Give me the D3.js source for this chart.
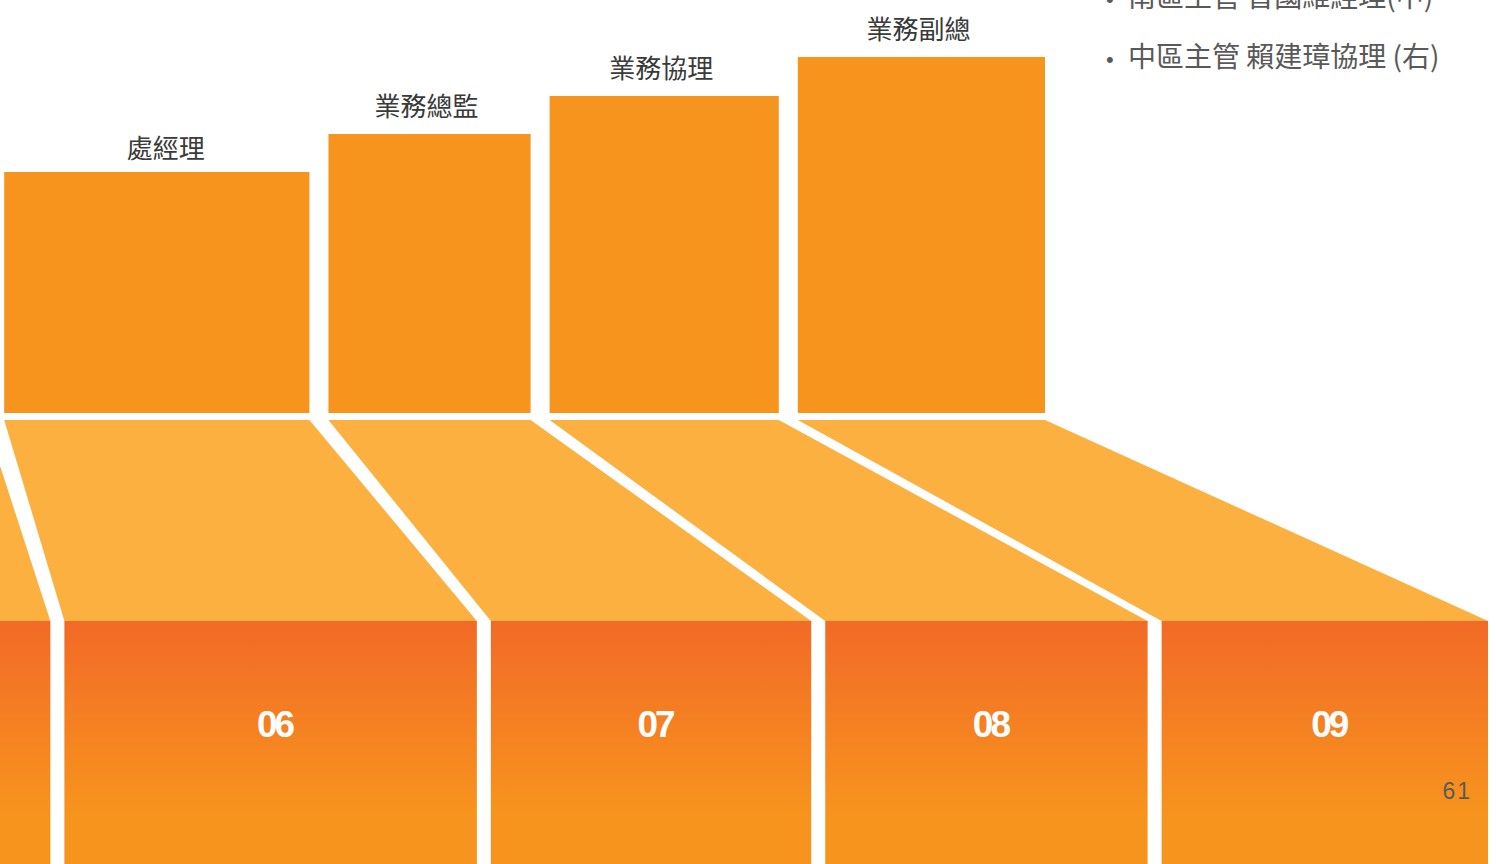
<!DOCTYPE html>
<html>
<head>
<meta charset="utf-8">
<script src="https://cdn.jsdelivr.net/npm/d3@7"></script>
<style>
  html, body { margin: 0; padding: 0; background: #fff; }
  svg { display: block; }
</style>
</head>
<body>
<svg></svg>
<script>
// 資料
var tiers = ["05", "06", "07", "08", "09"];
var titles = ["", "處經理", "業務總監", "業務協理", "業務副總"];
var levels = [203, 241, 279, 317, 356];       // 職級高度
var topSpans = [245, 305, 202, 229, 247];     // 上方長條寬度
var blockSpans = [320, 412, 320, 322, 326];   // 下方區塊寬度
var notes = ["南區主管 曾國維經理(中)", "中區主管 賴建璋協理 (右)"];
var pageNo = "61";

var svg = d3.select('svg')
.attr('width', 1496)
.attr('height', 864);

var defs = svg.append('defs');
var grad = defs.append('linearGradient')
.attr('id', 'blockGrad')
.attr('x1', 0).attr('y1', 0).attr('x2', 0).attr('y2', 1);
grad.append('stop').attr('offset', '0%').attr('stop-color', '#f26a27');
grad.append('stop').attr('offset', '80%').attr('stop-color', '#f7941d');
grad.append('stop').attr('offset', '100%').attr('stop-color', '#f7941d');

// 依寬度累加位置
function spans(arr, gap) {
  var out = [], pos = 0;
  arr.forEach(function(w) {
    out.push([pos, pos + w]);
    pos += w + gap;
  });
  return { list: out, total: pos - gap };
}
var topPos = spans(topSpans, 19);
var botPos = spans(blockSpans, 14);

// 比例尺
var xTop = d3.scaleLinear()
.domain([0, topPos.total])
.range([-260, 1045]);
var xBot = d3.scaleLinear()
.domain([0, botPos.total])
.range([-270, 1488]);
var yScale = d3.scaleLinear()
.domain([0, 400])
.range([413, 13]);

var bandTop = 420, bandBottom = 621;

var data = tiers.map(function(t, i) {
  return {
    tier: t,
    title: titles[i],
    level: levels[i],
    tx0: xTop(topPos.list[i][0]), tx1: xTop(topPos.list[i][1]),
    bx0: xBot(botPos.list[i][0]), bx1: xBot(botPos.list[i][1])
  };
});

// 上方長條
svg.selectAll('rect.bar')
.data(data)
.enter()
.append('rect')
.attr('class', 'bar')
.attr('x', d => d.tx0)
.attr('y', d => yScale(d.level))
.attr('width', d => d.tx1 - d.tx0)
.attr('height', d => yScale(0) - yScale(d.level))
.attr('fill', '#f7941d');

// 長條標籤
svg.selectAll('text.title')
.data(data.filter(d => d.title))
.enter()
.append('text')
.attr('class', 'title')
.attr('x', (d, i) => (d.tx0 + d.tx1) / 2 + (i == 0 ? 9 : -3))
.attr('y', (d, i) => yScale(d.level) - (i == 0 ? 14 : 18))
.style('text-anchor', 'middle')
.style('font-family', '"Noto Sans CJK TC", "Noto Sans CJK SC", sans-serif')
.style('font-size', '26px')
.style('fill', '#3a3a3a')
.text(d => d.title);

// 梯形連接
svg.selectAll('path.trap')
.data(data)
.enter()
.append('path')
.attr('class', 'trap')
.attr('d', d => 'M' + d.tx0 + ',' + bandTop + 'L' + d.tx1 + ',' + bandTop +
  'L' + d.bx1 + ',' + bandBottom + 'L' + d.bx0 + ',' + bandBottom + 'Z')
.attr('fill', '#fbb040');

// 下方區塊
svg.selectAll('rect.block')
.data(data)
.enter()
.append('rect')
.attr('class', 'block')
.attr('x', d => d.bx0)
.attr('y', bandBottom)
.attr('width', d => d.bx1 - d.bx0)
.attr('height', 864 - bandBottom)
.attr('fill', 'url(#blockGrad)');

svg.selectAll('text.tier')
.data(data.filter(d => d.bx0 > 0))
.enter()
.append('text')
.attr('class', 'tier')
.attr('x', d => (d.bx0 + d.bx1) / 2 + 4)
.attr('y', 737)
.style('text-anchor', 'middle')
.style('font-family', '"Liberation Sans", Arial, sans-serif')
.style('font-weight', 'bold')
.style('font-size', '37px')
.style('letter-spacing', '-3px')
.style('fill', '#fff')
.text(d => d.tier);

// 右上說明
var note = svg.append('g')
.style('fill', '#595959');
notes.forEach(function(n, i) {
  note.append('text')
  .attr('x', 1106)
  .attr('y', 7 + i * 60)
  .style('font-family', '"Liberation Sans", Arial, sans-serif')
  .style('font-size', '22px')
  .text('•');
  note.append('text')
  .attr('x', 1128)
  .attr('y', 7 + i * 60)
  .style('font-family', '"Noto Sans CJK TC", "Noto Sans CJK SC", sans-serif')
  .style('font-size', '28px')
  .text(n);
});

// 頁碼
svg.append('text')
.attr('x', 1472)
.attr('y', 799)
.style('text-anchor', 'end')
.style('font-family', '"Liberation Sans", Arial, sans-serif')
.style('font-size', '23px')
.style('letter-spacing', '2px')
.style('fill', '#5a5a5a')
.text(pageNo);
</script>
</body>
</html>
